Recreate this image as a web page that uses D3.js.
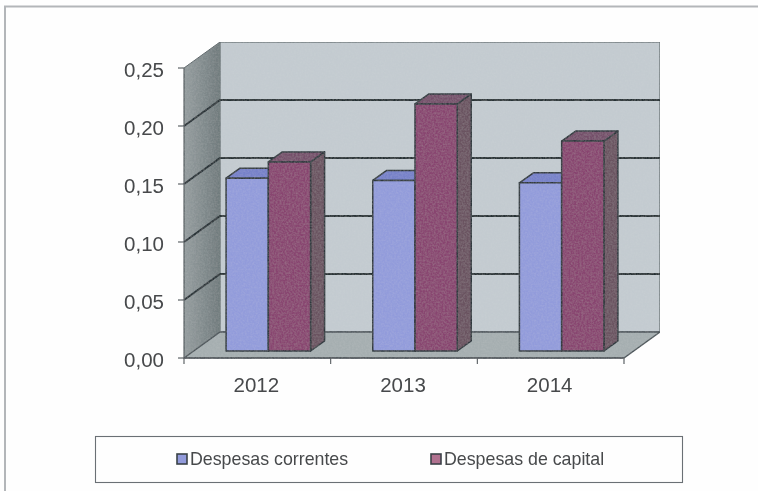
<!DOCTYPE html>
<html>
<head>
<meta charset="utf-8">
<script src="https://cdn.jsdelivr.net/npm/d3@7"></script>
<style>
  html, body { margin: 0; padding: 0; background: #fefefe; }
  svg { display: block; }
  text { font-family: "Liberation Sans", Arial, sans-serif; fill: #47494b; }
</style>
</head>
<body>
<div id="chart"></div>
<script>
var years = ['2012', '2013', '2014'];
var seriesNames = ['Despesas correntes', 'Despesas de capital'];
var correntes = [0.149, 0.147, 0.145];
var capital = [0.163, 0.213, 0.181];
var yTicks = [0, 0.05, 0.10, 0.15, 0.20, 0.25];

var width = 758, height = 491;
var left = 184, right = 624, top_ = 68, bottom = 358;
var depthX = 36, depthY = 26;      // wall depth
var barInsetX = 11, barInsetY = 7; // bars stand a bit behind the front edge
var barDepthX = 14, barDepthY = 10;
var groupWidth = 84.5;

var front = { blue: '#929bdb', red: '#88456f' };
var topFace = { blue: '#7681c9', red: '#75506a' };
var sideFace = { blue: '#5f68a8', red: '#6b5361' };
var edge = '#2f383e';

var y = d3.scaleLinear().domain([0, 0.25]).range([bottom, top_]);
var x = d3.scaleBand().domain(years).range([left, right]);
var xBar = d3.scaleBand().domain(seriesNames).range([0, groupWidth]);
var comma = function(d) { return d3.format('.2f')(d).replace('.', ','); };

var svg = d3.select('#chart').append('svg')
    .attr('width', width)
    .attr('height', height);

var defs = svg.append('defs');
var wallGrad = defs.append('linearGradient').attr('id', 'leftWall');
wallGrad.append('stop').attr('offset', '0').attr('stop-color', '#959d9f');
wallGrad.append('stop').attr('offset', '1').attr('stop-color', '#6f7a7c');

// scanned paper look
var grain = defs.append('filter').attr('id', 'grain')
    .attr('x', 0).attr('y', 0).attr('width', 1).attr('height', 1);
grain.append('feTurbulence')
    .attr('type', 'fractalNoise').attr('baseFrequency', 0.55).attr('numOctaves', 2).attr('seed', 3)
    .attr('result', 'n');
grain.append('feColorMatrix').attr('in', 'n').attr('type', 'matrix')
    .attr('values', '0 0 0 0 0.75  0 0 0 0 0.75  0 0 0 0 0.75  0.2 0 0 0 -0.06')
    .attr('result', 'speck');
grain.append('feComposite').attr('in', 'speck').attr('in2', 'SourceAlpha').attr('operator', 'in').attr('result', 'speck2');
grain.append('feGaussianBlur').attr('in', 'SourceGraphic').attr('stdDeviation', 0.5).attr('result', 'soft');
var grainMerge = grain.append('feMerge');
grainMerge.append('feMergeNode').attr('in', 'soft');
grainMerge.append('feMergeNode').attr('in', 'speck2');

var soft = defs.append('filter').attr('id', 'soft');
soft.append('feGaussianBlur').attr('stdDeviation', 0.35);

var poly = function(g, pts, fill) {
    return g.append('polygon')
        .attr('points', pts.map(function(p) { return p.join(','); }).join(' '))
        .attr('fill', fill)
        .attr('stroke', edge)
        .attr('stroke-width', 1.5)
        .attr('stroke-linejoin', 'round');
};

// scan leaves only the top and left of the outer frame
svg.append('path')
    .attr('d', 'M5,491V6.5H758')
    .attr('fill', 'none')
    .attr('stroke', '#b3b6b9')
    .attr('stroke-width', 2);

var plot = svg.append('g').attr('filter', 'url(#grain)');

// back wall, side wall, floor
plot.append('rect')
    .attr('x', left + depthX).attr('y', top_ - depthY)
    .attr('width', right - left).attr('height', bottom - top_)
    .attr('fill', '#c3cbd0')
    .attr('stroke', '#5b6468')
    .attr('stroke-width', 1.2);
poly(plot, [[left, top_], [left + depthX, top_ - depthY], [left + depthX, bottom - depthY], [left, bottom]], 'url(#leftWall)')
    .attr('stroke', 'none');
poly(plot, [[left, bottom], [left + depthX, bottom - depthY], [right + depthX, bottom - depthY], [right, bottom]], '#a5aeb0')
    .attr('stroke', '#4a5358');

// gridlines run over side wall and back wall
yTicks.slice(1, -1).forEach(function(t) {
    plot.append('polyline')
        .attr('points', [[left, y(t)], [left + depthX, y(t) - depthY], [right + depthX, y(t) - depthY]].join(' '))
        .attr('fill', 'none')
        .attr('stroke', '#263036')
        .attr('stroke-width', 1.9);
});
plot.append('line')
    .attr('x1', left).attr('x2', left + depthX)
    .attr('y1', top_).attr('y2', top_ - depthY)
    .attr('stroke', '#5b6468')
    .attr('stroke-width', 1);

// axes
var axisG = plot.append('g').attr('stroke', '#4a5155').attr('stroke-width', 1.1);
axisG.append('line').attr('x1', left).attr('x2', left).attr('y1', top_).attr('y2', bottom);
axisG.append('line').attr('x1', left).attr('x2', right).attr('y1', bottom).attr('y2', bottom);
yTicks.forEach(function(t) {
    axisG.append('line').attr('x1', left - 6).attr('x2', left).attr('y1', y(t)).attr('y2', y(t));
});
x.domain().concat(['end']).forEach(function(d, i) {
    var px = left + i * x.bandwidth();
    axisG.append('line').attr('x1', px).attr('x2', px).attr('y1', bottom).attr('y2', bottom + 6);
});

// bars
var drawBar = function(year, name, value, color) {
    var g = plot.append('g');
    var x0 = x(year) + barInsetX + (x.bandwidth() - groupWidth) / 2 + xBar(name);
    var x1 = x0 + xBar.bandwidth();
    var yBase = bottom - barInsetY;
    var yTop = y(value) - barInsetY;
    poly(g, [[x1, yTop], [x1 + barDepthX, yTop - barDepthY], [x1 + barDepthX, yBase - barDepthY], [x1, yBase]], sideFace[color]);
    poly(g, [[x0, yTop], [x0 + barDepthX, yTop - barDepthY], [x1 + barDepthX, yTop - barDepthY], [x1, yTop]], topFace[color]);
    poly(g, [[x0, yTop], [x1, yTop], [x1, yBase], [x0, yBase]], front[color]);
};
years.forEach(function(year, i) {
    drawBar(year, seriesNames[0], correntes[i], 'blue');
    drawBar(year, seriesNames[1], capital[i], 'red');
});

// tick labels
var labels = svg.append('g').attr('filter', 'url(#soft)');
labels.selectAll('.ylab').data(yTicks).enter().append('text')
    .attr('class', 'ylab')
    .attr('x', left - 20)
    .attr('y', function(d) { return y(d) + 8.5; })
    .attr('text-anchor', 'end')
    .attr('font-size', 20.5)
    .text(comma);
labels.selectAll('.xlab').data(years).enter().append('text')
    .attr('class', 'xlab')
    .attr('x', function(d) { return x(d) + x.bandwidth() / 2 - 1; })
    .attr('y', 392)
    .attr('text-anchor', 'middle')
    .attr('font-size', 20.5)
    .text(function(d) { return d; });

// legend
var legend = svg.append('g').attr('filter', 'url(#soft)');
legend.append('rect')
    .attr('x', 95.5).attr('y', 436.5)
    .attr('width', 587).attr('height', 46)
    .attr('fill', '#fefefe')
    .attr('stroke', '#6b7074')
    .attr('stroke-width', 1.1);
[[177, front.blue], [431, '#b0718f']].forEach(function(item, i) {
    legend.append('rect')
        .attr('x', item[0]).attr('y', 454)
        .attr('width', 10).attr('height', 10)
        .attr('fill', item[1])
        .attr('stroke', '#3b4248')
        .attr('stroke-width', 1.6);
    legend.append('text')
        .attr('x', item[0] + 13).attr('y', 465)
        .attr('font-size', 17.8)
        .text(seriesNames[i]);
});
</script>
</body>
</html>
